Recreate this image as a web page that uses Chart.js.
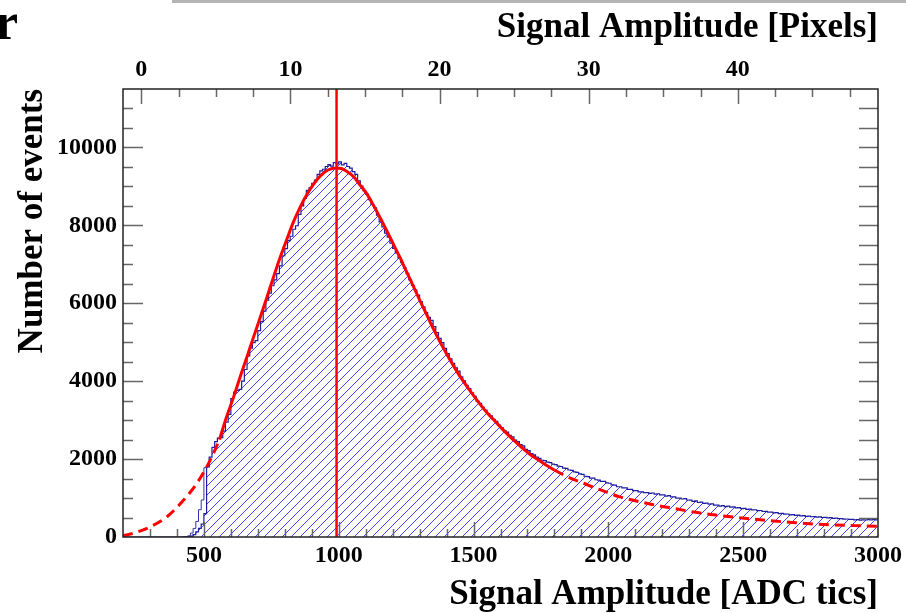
<!DOCTYPE html>
<html><head><meta charset="utf-8">
<script src="https://cdn.jsdelivr.net/npm/chart.js@4.4.1/dist/chart.umd.min.js"></script>
<style>html,body{margin:0;padding:0;background:#fff;overflow:hidden;} #wrap{width:906px;height:613px;position:relative;}</style>
</head><body><div id="wrap"><canvas id="c" width="906" height="613"></canvas></div>
<script>
// ---------------- data ----------------
const histStart = 200;
const binWidth = 10;
const histEnd = 3000;
const histCounts = [
  0,0,0,0,0,0,0,0,0,0,
  0,0,0,0,0,0,0,0,0,0,
  0,0,5,8,12,25,60,130,220,330,
  600,1800,2050,2300,2450,2540,2550,2720,2950,3150,
  3550,3720,3760,3790,4000,4300,4650,4850,4990,5040,
  5300,5530,5800,6080,6260,6450,6600,6760,6960,7220,
  7400,7610,7720,7900,7990,8280,8500,8690,8900,8960,
  9080,9160,9310,9400,9440,9510,9560,9520,9610,9580,
  9630,9550,9590,9510,9470,9380,9310,9140,9010,8890,
  8800,8660,8540,8450,8260,8090,7960,7800,7700,7540,
  7410,7290,7160,7040,6900,6760,6600,6460,6340,6210,
  6040,5910,5760,5640,5560,5400,5250,5100,4990,4840,
  4710,4570,4460,4340,4260,4110,4010,3890,3810,3700,
  3610,3490,3430,3330,3260,3170,3110,3020,2970,2870,
  2810,2730,2690,2610,2570,2490,2450,2370,2340,2250,
  2220,2140,2110,2050,2020,1970,1960,1920,1910,1870,
  1860,1820,1810,1770,1760,1720,1710,1670,1660,1620,
  1610,1560,1550,1510,1510,1470,1460,1430,1430,1390,
  1380,1340,1330,1290,1290,1260,1260,1220,1220,1190,
  1190,1160,1160,1140,1140,1120,1130,1100,1110,1080,
  1080,1050,1060,1030,1030,1000,1000,975,985,950,
  945,915,925,885,895,865,870,845,850,820,
  820,795,805,780,790,765,775,750,755,730,
  735,710,715,695,700,675,680,655,660,640,
  640,620,625,600,605,585,590,570,575,555,
  560,540,548,530,535,520,525,510,515,500,
  505,490,495,480,485,470,472,460,462,450,
  452,440,445,435,440,436,445,438,450,442
];
// second (unfilled) outline on the rising edge
const edgeStart = 430;
const edgeCounts = [0, 30, 100, 220, 400, 700, 950, 1780, 1820, 2050];

const fitLeftX = [200, 250, 302, 363, 425, 474, 524, 558];
const fitLeftY = [30, 120, 265, 520, 950, 1380, 1980, 2500];
const fitMainX = [558,580,611,635,660,685,710,735,759,784,808,833,858,882,907,932,960,990,1010,1031,1055,1081,1105,1130,1155,1179,1204,1229,1253,1278,1303,1328,1352,1377,1402,1427,1451,1476,1501,1526,1550,1575,1600,1630,1661,1690,1711,1740,1770,1800];
const fitMainY = [2500,3000,3610,4120,4630,5150,5660,6180,6690,7200,7650,8100,8480,8790,9060,9270,9420,9475,9460,9380,9250,9020,8800,8500,8180,7850,7500,7150,6790,6420,6040,5680,5330,4990,4680,4380,4110,3860,3620,3390,3190,3010,2820,2610,2410,2230,2110,1980,1840,1720];
const fitRightX = [1800,1835,1870,1909,1940,1971,2005,2039,2076,2113,2150,2187,2224,2261,2317,2391,2465,2539,2613,2688,2762,2836,2910,3000];
const fitRightY = [1720,1590,1480,1380,1290,1210,1120,1035,970,910,855,800,755,710,640,570,510,460,410,370,335,310,292,272];

const peakMarker = 992;
const bottomTicks = [500, 1000, 1500, 2000, 2500, 3000];
const topTicks = [0, 10, 20, 30, 40];
const leftTicks = [0, 2000, 4000, 6000, 8000, 10000];

// ---------------- build ----------------
const pts = (xs, ys) => xs.map((x, i) => ({x: x, y: ys[i]}));
const histPts = histCounts.map((v, i) => ({x: histStart + i * binWidth, y: v}));
histPts.push({x: histEnd, y: histCounts[histCounts.length - 1]});
const edgePts = edgeCounts.map((v, i) => ({x: edgeStart + i * binWidth, y: v}));

const canvas = document.getElementById('c');
const ctx0 = canvas.getContext('2d');
function makeHatch() {
  const s = 9;
  const c = document.createElement('canvas');
  c.width = s; c.height = s;
  const g = c.getContext('2d');
  g.strokeStyle = 'rgba(45,45,255,0.9)';
  g.lineWidth = 1;
  g.beginPath();
  g.moveTo(0, s); g.lineTo(s, 0);
  g.moveTo(-2, 2); g.lineTo(2, -2);
  g.moveTo(s - 2, s + 2); g.lineTo(s + 2, s - 2);
  g.stroke();
  return ctx0.createPattern(c, 'repeat');
}
const hatch = makeHatch();

const FONT = "'Liberation Serif', 'DejaVu Serif', serif";
const tickFont = {family: FONT, size: 24, weight: 'bold'};
const titleFont = {family: FONT, size: 35, weight: 'bold', lineHeight: 1};
const plain = (v) => String(v);

const frame = {
  id: 'frame',
  afterDatasetsDraw(chart) {
    const {ctx, chartArea: a, scales} = chart;
    ctx.save();
    const seg = (x1, y1, x2, y2) => { ctx.beginPath(); ctx.moveTo(x1, y1); ctx.lineTo(x2, y2); ctx.stroke(); };
    ctx.strokeStyle = '#666';
    ctx.lineWidth = 1.5;
    for (let v = 300; v < 3000; v += 100) {
      const px = Math.round(scales.x.getPixelForValue(v)) + 0.5;
      const L = (v % 500 === 0) ? 15 : 8;
      seg(px, a.bottom, px, a.bottom - L);
    }
    for (let v = 0; v <= scales.x2.max; v += 2.5) {
      const px = Math.round(scales.x2.getPixelForValue(v)) + 0.5;
      const L = (v % 10 === 0) ? 15 : 8;
      seg(px, a.top, px, a.top + L);
    }
    for (let v = 500; v < scales.y.max; v += 500) {
      const py = Math.round(scales.y.getPixelForValue(v)) + 0.5;
      const L = (v % 2000 === 0) ? 20 : 10;
      seg(a.left, py, a.left + L, py);
      seg(a.right, py, a.right - 19, py);
    }
    ctx.strokeStyle = '#222';
    ctx.lineWidth = 1.5;
    ctx.strokeRect(a.left, a.top, a.right - a.left, a.bottom - a.top);
    ctx.restore();
  },
  afterDraw(chart) {
    const ctx = chart.ctx;
    ctx.save();
    ctx.fillStyle = '#b4b4b4';
    ctx.fillRect(172, 0, 734, 3);
    ctx.fillStyle = '#000';
    ctx.font = "bold 52px " + FONT;
    ctx.textBaseline = 'alphabetic';
    ctx.fillText('r', -5, 39);
    ctx.restore();
  }
};

const setTicks = (arr) => (s) => { s.ticks = arr.map(v => ({value: v})); };
const noGrid = {display: false, drawTicks: false};

new Chart(canvas, {
  type: 'line',
  data: {
    datasets: [
      {data: [{x: peakMarker, y: 0}, {x: peakMarker, y: 11500}], borderColor: '#ff0000', borderWidth: 2.5, pointRadius: 0, fill: false},
      {data: pts(fitMainX, fitMainY), borderColor: '#ff0000', borderWidth: 3, pointRadius: 0, fill: false, cubicInterpolationMode: 'monotone'},
      {data: pts(fitLeftX, fitLeftY), borderColor: '#ff0000', borderWidth: 3, borderDash: [10, 6], pointRadius: 0, fill: false, cubicInterpolationMode: 'monotone'},
      {data: pts(fitRightX, fitRightY), borderColor: '#ff0000', borderWidth: 3, borderDash: [10, 6], pointRadius: 0, fill: false, cubicInterpolationMode: 'monotone'},
      {data: edgePts, stepped: true, borderColor: '#3030b0', borderWidth: 1, pointRadius: 0, fill: false},
      {data: histPts, stepped: true, borderColor: '#1c1c9c', borderWidth: 1.2, pointRadius: 0, backgroundColor: hatch, fill: 'origin'}
    ]
  },
  options: {
    responsive: false,
    animation: false,
    devicePixelRatio: 1,
    layout: {padding: {left: 0, right: 28, top: 0, bottom: 0}},
    plugins: {legend: {display: false}, tooltip: {enabled: false}},
    scales: {
      x: {
        type: 'linear', position: 'bottom', min: 200, max: 3000,
        afterBuildTicks: setTicks(bottomTicks),
        afterFit: (s) => { s.height = 76; },
        grid: noGrid, border: {display: false},
        ticks: {font: tickFont, color: '#000', padding: 4, maxRotation: 0, autoSkip: false, callback: plain},
        title: {display: true, text: 'Signal Amplitude [ADC tics]', align: 'end', color: '#000', font: titleFont, padding: {top: 0, bottom: 1}}
      },
      x2: {
        type: 'linear', position: 'top', min: -1.23, max: 49.4,
        afterBuildTicks: setTicks(topTicks),
        afterFit: (s) => { s.height = 89; },
        grid: noGrid, border: {display: false},
        ticks: {font: tickFont, color: '#000', padding: 5, maxRotation: 0, autoSkip: false, callback: plain},
        title: {display: true, text: 'Signal Amplitude [Pixels]', align: 'end', color: '#000', font: titleFont, padding: {top: 10, bottom: 0}}
      },
      y: {
        type: 'linear', position: 'left', min: 0, max: 11500,
        afterBuildTicks: setTicks(leftTicks),
        afterFit: (s) => { s.width = 123; },
        grid: noGrid, border: {display: false},
        ticks: {font: tickFont, color: '#000', padding: 6, autoSkip: false, callback: plain},
        title: {display: true, text: 'Number of events', align: 'end', color: '#000', font: titleFont, padding: {top: 15, bottom: 0}}
      }
    }
  },
  plugins: [frame]
});
</script></body></html>
